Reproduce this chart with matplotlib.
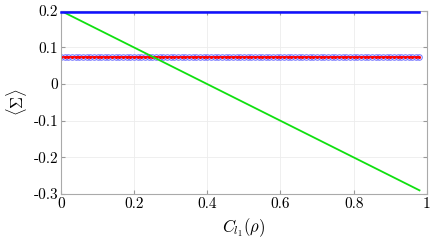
# <Sigma> versus l1-norm coherence, MATLAB-like style

import numpy as np
import matplotlib
matplotlib.use('Agg')
import matplotlib.pyplot as plt

plt.rcParams['font.family'] = 'cmr10'
plt.rcParams['mathtext.fontset'] = 'cm'
plt.rcParams['axes.unicode_minus'] = False

# coherence values on the x axis
coherence = np.arange(0, 0.985, 0.01)
# the three curves
sigma_upper = 0.197
sigma_const = 0.075
sigma_start, sigma_slope = 0.2, -0.5

x_ticks = [0, 0.2, 0.4, 0.6, 0.8, 1]
x_tick_labels = ['0', '0.2', '0.4', '0.6', '0.8', '1']
y_ticks = [0.2, 0.1, 0, -0.1, -0.2, -0.3]
y_tick_labels = ['0.2', '0.1', '0', '-0.1', '-0.2', '-0.3']

fig = plt.figure(figsize=(4.32, 2.41), dpi=100)
ax = fig.add_axes([0.141, 0.195, 0.847, 0.76])

n = len(coherence)
ax.plot(coherence, np.full(n, sigma_upper), color='#1010ff', lw=1.8, clip_on=False, zorder=5)
ax.plot(coherence, np.full(n, sigma_const), 'o', mfc='none', mec='#7070ff', ms=4, mew=0.7)
ax.plot(coherence, np.full(n, sigma_const), '.-', color='#ff0000', ms=2.5, lw=1.2)
ax.plot(coherence, sigma_start + sigma_slope * coherence, color='#10e010', lw=1.3)

ax.set_xlim(0, 1)
ax.set_ylim(-0.3, 0.2)
ax.set_xticks(x_ticks)
ax.set_xticklabels(x_tick_labels)
ax.set_yticks(y_ticks)
ax.set_yticklabels(y_tick_labels)
ax.tick_params(direction='in', labelsize=11, length=3, color='#999999',
               top=True, right=True, pad=2)
for s in ax.spines.values():
    s.set_color('#aaaaaa')
    s.set_linewidth(0.8)
ax.grid(True, color='#ececec', lw=0.6)
ax.set_axisbelow(True)

ax.set_xlabel(r'$C_{l_1}(\rho)$', fontsize=12, labelpad=4)
ax.set_ylabel(r'$\langle\Sigma\rangle$', fontsize=12, labelpad=3)

plt.savefig('out.png', dpi=100)
